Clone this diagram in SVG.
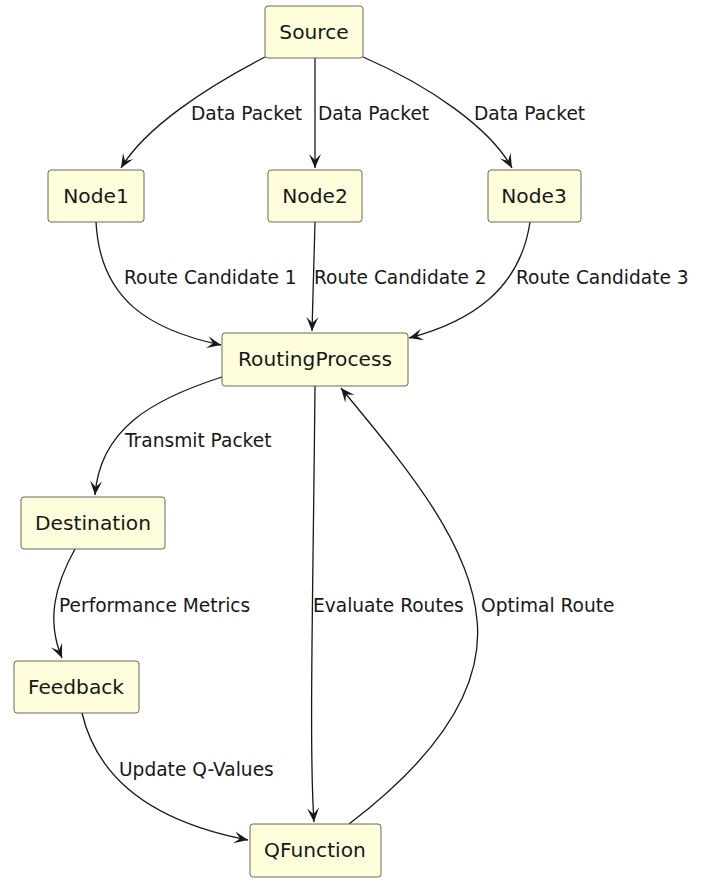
<svg xmlns="http://www.w3.org/2000/svg" width="708" height="880" viewBox="0 0 708 880">
  <style>
    .node rect { fill: #FEFEDC; stroke: #5a5a4a; stroke-width: 0.9; }
    .node text { font-family: "DejaVu Sans", sans-serif; font-size: 20.2px; fill: #181818; text-anchor: middle; }
    .edge { fill: none; stroke: #181818; stroke-width: 1.3; marker-end: url(#arrow); }
    .label { font-family: "DejaVu Sans", sans-serif; font-size: 18.6px; fill: #181818; }
  </style>
  <defs>
    <marker id="arrow" markerUnits="userSpaceOnUse" viewBox="-15 -8 16 16" refX="0" refY="0" markerWidth="16" markerHeight="16" orient="auto">
      <path d="M0,0 L-14,-6 L-8,0 L-14,6 Z" fill="#181818"/>
    </marker>
  </defs>

  <!-- connectors -->
  <g id="connectors">
    <path class="edge" d="M265,57 C205,88 145,128 121,168"/>
    <path class="edge" d="M315,58 L315,168"/>
    <path class="edge" d="M363,57 C430,86 490,128 512,168"/>
    <path class="edge" d="M96,222 C100,300 150,330 221,345"/>
    <path class="edge" d="M315,222 L312,331"/>
    <path class="edge" d="M530,222 C520,290 470,322 409,338"/>
    <path class="edge" d="M222,377 C150,400 100,430 95,495"/>
    <path class="edge" d="M315,386 C313,600 309,750 314,822"/>
    <path class="edge" d="M349,824 C420,770 485,700 477,620 C470,540 400,460 341,388"/>
    <path class="edge" d="M75,549 C55,585 46,620 62,658"/>
    <path class="edge" d="M82,713 C100,790 170,825 248,840"/>

    <text class="label" x="191" y="120">Data Packet</text>
    <text class="label" x="318" y="120">Data Packet</text>
    <text class="label" x="474" y="120">Data Packet</text>
    <text class="label" x="124" y="284">Route Candidate 1</text>
    <text class="label" x="314" y="284">Route Candidate 2</text>
    <text class="label" x="516" y="284">Route Candidate 3</text>
    <text class="label" x="125" y="447">Transmit Packet</text>
    <text class="label" x="59" y="612">Performance Metrics</text>
    <text class="label" x="313" y="612">Evaluate Routes</text>
    <text class="label" x="481" y="612">Optimal Route</text>
    <text class="label" x="119" y="776">Update Q-Values</text>
  </g>

  <g id="Source" class="node">
    <rect x="265" y="6" width="98" height="52" rx="3"/>
    <text x="314" y="39">Source</text>
  </g>
  <g id="Node1" class="node">
    <rect x="48" y="170" width="96" height="52" rx="3"/>
    <text x="96" y="203">Node1</text>
  </g>
  <g id="Node2" class="node">
    <rect x="268" y="170" width="94" height="52" rx="3"/>
    <text x="315" y="203">Node2</text>
  </g>
  <g id="Node3" class="node">
    <rect x="488" y="170" width="93" height="52" rx="3"/>
    <text x="534" y="203">Node3</text>
  </g>
  <g id="RoutingProcess" class="node">
    <rect x="222" y="333" width="186" height="53" rx="3"/>
    <text x="315" y="366">RoutingProcess</text>
  </g>
  <g id="Destination" class="node">
    <rect x="21" y="497" width="144" height="52" rx="3"/>
    <text x="93" y="530">Destination</text>
  </g>
  <g id="Feedback" class="node">
    <rect x="14" y="661" width="125" height="52" rx="3"/>
    <text x="76" y="694">Feedback</text>
  </g>
  <g id="QFunction" class="node">
    <rect x="250" y="824" width="131" height="53" rx="3"/>
    <text x="315" y="857">QFunction</text>
  </g>
</svg>
